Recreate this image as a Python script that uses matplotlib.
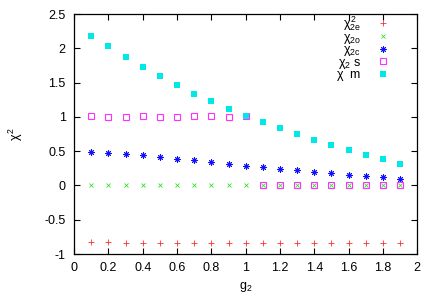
import numpy as np
import matplotlib
matplotlib.use("Agg")
import matplotlib.pyplot as plt

plt.rcParams['font.family'] = ['Liberation Sans', 'DejaVu Sans']
plt.rcParams['mathtext.fontset'] = 'custom'
plt.rcParams['mathtext.rm'] = 'Liberation Sans'
plt.rcParams['mathtext.it'] = 'Liberation Sans'

g2 = [0.1, 0.2, 0.3, 0.4, 0.5, 0.6, 0.7, 0.8, 0.9, 1.0,
      1.1, 1.2, 1.3, 1.4, 1.5, 1.6, 1.7, 1.8, 1.9]

chi_2e = [-0.83, -0.83, -0.84, -0.84, -0.84, -0.84, -0.84, -0.84, -0.84, -0.84,
          -0.84, -0.84, -0.84, -0.84, -0.84, -0.84, -0.84, -0.84, -0.84]
chi_2o = [0.0] * 19
chi_2c = [0.49, 0.47, 0.46, 0.44, 0.41, 0.38, 0.37, 0.34, 0.31, 0.29,
          0.27, 0.24, 0.22, 0.20, 0.18, 0.16, 0.14, 0.12, 0.10]
chi_s = [1.01, 1.0, 1.0, 1.01, 1.0, 1.0, 1.01, 1.01, 1.0, 1.01,
         0.0, 0.0, 0.0, 0.0, 0.0, 0.0, 0.0, 0.0, 0.0]
chi_m = [2.18, 2.03, 1.88, 1.73, 1.59, 1.46, 1.34, 1.23, 1.12, 1.02,
         0.93, 0.84, 0.75, 0.67, 0.59, 0.52, 0.45, 0.39, 0.32]

labels = [r"$\chi^2_{2e}$", r"$\chi_{2o}$", r"$\chi_{2c}$", r"$\chi_{2}$ s", r"$\chi$  m"]

fig = plt.figure(figsize=(4.36, 3.05), dpi=100)
ax = fig.add_axes([0.170, 0.167, 0.787, 0.787])

ax.plot(g2, chi_2e, ls='none', marker='+', ms=4.5, mew=0.6, color='#ff3030', label=labels[0])
ax.plot(g2, chi_2o, ls='none', marker='x', ms=3.5, mew=0.6, color='#30e030', label=labels[1])
ax.plot(g2, chi_2c, ls='none', marker=(8, 2, 0), ms=4.5, mew=0.7, color='#1010ff', label=labels[2])
ax.plot(g2, chi_s, ls='none', marker='s', ms=4, mew=0.8, mfc='none', color='#ff30ff', label=labels[3])
ax.plot(g2, chi_m, ls='none', marker='s', ms=4, mew=0, color='#00e8e8', label=labels[4])

ax.set_xlim(0, 2)
ax.set_ylim(-1, 2.5)
xt = [0, 0.2, 0.4, 0.6, 0.8, 1, 1.2, 1.4, 1.6, 1.8, 2]
yt = [-1, -0.5, 0, 0.5, 1, 1.5, 2, 2.5]
ax.set_xticks(xt)
ax.set_xticklabels([f"{v:g}" for v in xt])
ax.set_yticks(yt)
ax.set_yticklabels([f"{v:g}" for v in yt])
ax.tick_params(direction='in', top=True, right=True, length=4, width=0.8,
               labelsize=9, pad=6)
for s in ax.spines.values():
    s.set_linewidth(0.9)

ax.set_xlabel(r"g$_2$", fontsize=9, labelpad=4)
ax.set_ylabel(r"$\chi^2$", fontsize=9, labelpad=14)

ax.legend(loc='upper right', bbox_to_anchor=(0.945, 1.035), frameon=False,
          markerfirst=False, fontsize=9, labelspacing=-0.12, handlelength=1.0,
          handletextpad=1.3, borderpad=0.2)

fig.savefig("out.png", dpi=100)
